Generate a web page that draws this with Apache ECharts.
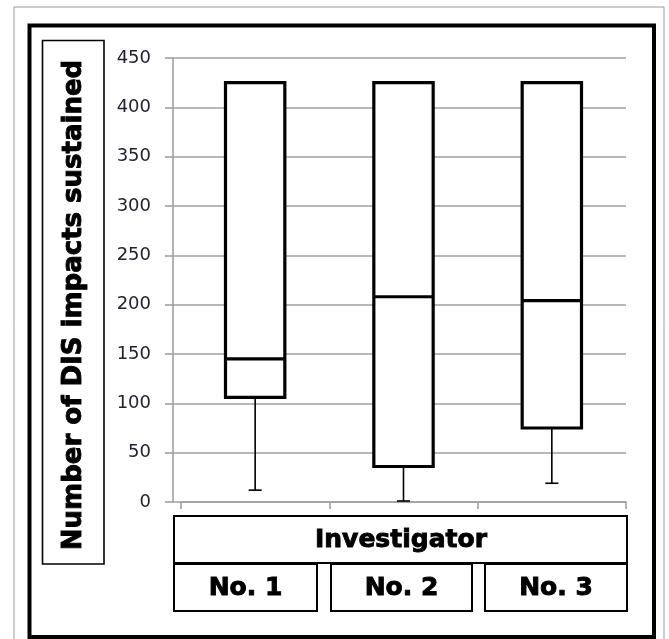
<!DOCTYPE html>
<html>
<head>
<meta charset="utf-8">
<script src="https://cdn.jsdelivr.net/npm/echarts@6/dist/echarts.min.js"></script>
<style>
html,body{margin:0;padding:0;background:#fff;}
#main{width:669px;height:639px;}
</style>
</head>
<body>
<div id="main"></div>
<script>
var categories = ['No. 1', 'No. 2', 'No. 3'];
var minValues = [12, 1, 19];
var q1Values = [106, 36, 75];
var medianValues = [145, 208, 204];
var q3Values = [425, 425, 425];
var maxValues = [425, 425, 425];
var yTicks = [0, 50, 100, 150, 200, 250, 300, 350, 400, 450];
var yTitle = 'Number of DIS impacts sustained';
var xTitle = 'Investigator';

var boxData = categories.map(function (c, i) {
  return [i, minValues[i], q1Values[i], medianValues[i], q3Values[i], maxValues[i]];
});

var chart = echarts.init(document.getElementById('main'), null, {renderer: 'canvas'});

function renderBox(params, api) {
  var idx = api.value(0);
  var band = api.size([1, 0])[0];
  var halfW = band * 0.2;
  var capW = 6.5;
  var pMin = api.coord([idx, api.value(1)]);
  var pQ1 = api.coord([idx, api.value(2)]);
  var pMed = api.coord([idx, api.value(3)]);
  var pQ3 = api.coord([idx, api.value(4)]);
  var pMax = api.coord([idx, api.value(5)]);
  var cx = pQ1[0];
  var thin = {stroke: '#000', lineWidth: 1.6};
  var thick = {stroke: '#000', lineWidth: 3.2};
  return {
    type: 'group',
    children: [
      {type: 'line', shape: {x1: cx, y1: pQ1[1], x2: cx, y2: pMin[1]}, style: thin},
      {type: 'line', shape: {x1: cx - capW, y1: pMin[1], x2: cx + capW, y2: pMin[1]}, style: thin},
      {type: 'line', shape: {x1: cx, y1: pQ3[1], x2: cx, y2: pMax[1]}, style: thin},
      {type: 'line', shape: {x1: cx - capW, y1: pMax[1], x2: cx + capW, y2: pMax[1]}, style: thin},
      {type: 'rect', shape: {x: cx - halfW, y: pQ3[1], width: halfW * 2, height: pQ1[1] - pQ3[1]},
        style: {fill: '#fff', stroke: '#000', lineWidth: 3.2}},
      {type: 'line', shape: {x1: cx - halfW, y1: pMed[1], x2: cx + halfW, y2: pMed[1]}, style: thick}
    ]
  };
}

var boldStyle = function (txt, size) {
  return {text: txt, font: 'bold ' + size + 'px "DejaVu Sans"', fill: '#000',
    stroke: '#000', lineWidth: 0.9, align: 'center', verticalAlign: 'middle'};
};

// category label boxes (below plot)
var labelBoxes = [[174, 317], [331, 472], [485, 627]];
var graphics = [
  {type: 'rect', shape: {x: 14, y: 7, width: 650, height: 650}, style: {fill: 'none', stroke: '#9a9a9a', lineWidth: 1}, z: 10},
  {type: 'rect', shape: {x: 29.5, y: 25.5, width: 624.5, height: 611.5}, style: {fill: 'none', stroke: '#000', lineWidth: 4}, z: 10},
  {type: 'rect', shape: {x: 42.5, y: 40.5, width: 61.5, height: 523.5}, style: {fill: 'none', stroke: '#000', lineWidth: 1.6}, z: 10},
  {type: 'text', x: 74, y: 305, rotation: Math.PI / 2, z: 10, style: boldStyle(yTitle, 26)},
  {type: 'rect', shape: {x: 174, y: 516, width: 453, height: 47}, style: {fill: 'none', stroke: '#000', lineWidth: 2}, z: 10},
  {type: 'text', x: 401, y: 540, z: 10, style: boldStyle(xTitle, 25)}
];
categories.forEach(function (c, i) {
  var b = labelBoxes[i];
  graphics.push({type: 'rect', shape: {x: b[0], y: 564, width: b[1] - b[0], height: 47},
    style: {fill: 'none', stroke: '#000', lineWidth: 2}, z: 10});
  graphics.push({type: 'text', x: (b[0] + b[1]) / 2, y: 588, z: 10, style: boldStyle(c, 25)});
});

var option = {
  animation: false,
  backgroundColor: '#fff',
  grid: [
    {left: 173, right: 43, top: 58, bottom: 137},
    {left: 181, right: 43, top: 58, bottom: 137}
  ],
  xAxis: [
    {gridIndex: 0, type: 'value', show: false, min: 0, max: 1},
    {gridIndex: 1, type: 'category', data: categories, boundaryGap: true,
      axisLine: {lineStyle: {color: '#a0a0a0', width: 1.6}},
      axisTick: {show: true, length: 7, lineStyle: {color: '#a0a0a0', width: 1.6}},
      axisLabel: {show: false}, splitLine: {show: false}}
  ],
  yAxis: [
    {gridIndex: 0, type: 'value', min: yTicks[0], max: yTicks[yTicks.length - 1], interval: 50,
      axisLine: {show: true, lineStyle: {color: '#a0a0a0', width: 1.6}},
      axisTick: {show: true, length: 8, lineStyle: {color: '#a0a0a0', width: 1.6}},
      axisLabel: {color: '#22222e', fontSize: 18, fontFamily: 'DejaVu Sans', margin: 22},
      splitLine: {show: true, lineStyle: {color: '#a0a0a0', width: 1.6}}},
    {gridIndex: 1, type: 'value', min: yTicks[0], max: yTicks[yTicks.length - 1], show: false}
  ],
  series: [{
    type: 'custom',
    xAxisIndex: 1,
    yAxisIndex: 1,
    renderItem: renderBox,
    data: boxData,
    z: 5
  }],
  graphic: graphics
};
chart.setOption(option);
</script>
</body>
</html>
